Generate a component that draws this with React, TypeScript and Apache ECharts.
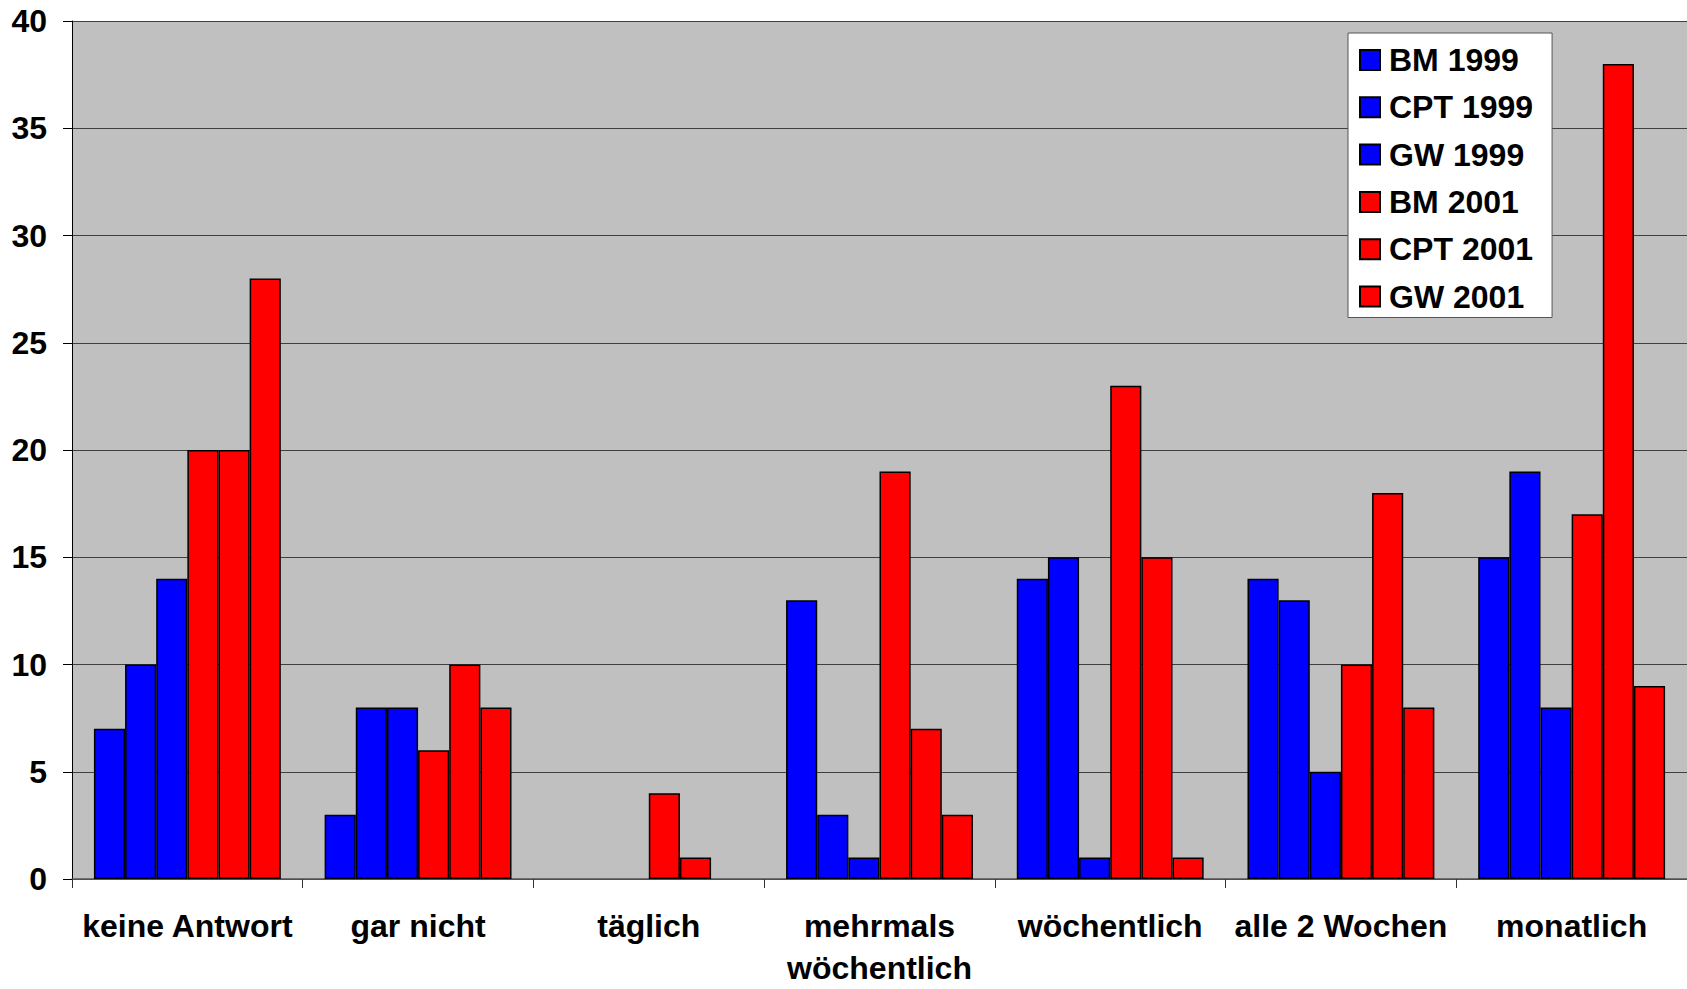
import React, { useEffect, useRef } from "react";
import * as echarts from "echarts";

const categories = [
  "keine Antwort",
  "gar nicht",
  "täglich",
  "mehrmals\nwöchentlich",
  "wöchentlich",
  "alle 2 Wochen",
  "monatlich",
];

const seriesNames = ["BM 1999", "CPT 1999", "GW 1999", "BM 2001", "CPT 2001", "GW 2001"];

const bm1999 = [7, 3, 0, 13, 14, 14, 15];
const cpt1999 = [10, 8, 0, 3, 15, 13, 19];
const gw1999 = [14, 8, 0, 1, 1, 5, 8];
const bm2001 = [20, 6, 4, 19, 23, 10, 17];
const cpt2001 = [20, 10, 1, 7, 15, 18, 38];
const gw2001 = [28, 8, 0, 3, 1, 8, 9];

const seriesValues = [bm1999, cpt1999, gw1999, bm2001, cpt2001, gw2001];
const seriesColors = ["#0000FF", "#0000FF", "#0000FF", "#FF0000", "#FF0000", "#FF0000"];

const yTicks = { min: 0, max: 40, interval: 5 };

const FONT = "'Liberation Sans', Arial, sans-serif";

export default function App() {
  const ref = useRef<HTMLDivElement>(null);

  useEffect(() => {
    if (!ref.current) return;
    const chart = echarts.init(ref.current, null, { renderer: "svg" });
    chart.setOption({
      animation: false,
      backgroundColor: "#FFFFFF",
      textStyle: { fontFamily: FONT },
      grid: {
        left: 72,
        top: 21,
        right: 0,
        bottom: 103,
        show: true,
        backgroundColor: "#C0C0C0",
        borderWidth: 0,
      },
      legend: {
        orient: "vertical",
        left: 1348,
        top: 33,
        backgroundColor: "#FFFFFF",
        borderColor: "#555555",
        borderWidth: 1,
        padding: [11, 19, 5, 11],
        itemWidth: 20,
        itemHeight: 20,
        itemGap: 15.3,
        icon: "rect",
        textStyle: {
          fontFamily: FONT,
          fontWeight: "bold",
          fontSize: 32,
          color: "#000000",
          padding: [0, 0, 0, 4],
        },
        data: seriesNames,
      },
      xAxis: {
        type: "category",
        data: categories,
        axisLine: { show: true, lineStyle: { color: "#555555", width: 1.5 } },
        axisTick: { show: true, length: 9, lineStyle: { color: "#333333", width: 1 } },
        axisLabel: {
          interval: 0,
          margin: 26,
          fontFamily: FONT,
          fontWeight: "bold",
          fontSize: 32,
          lineHeight: 42,
          color: "#000000",
        },
      },
      yAxis: {
        type: "value",
        min: yTicks.min,
        max: yTicks.max,
        interval: yTicks.interval,
        axisLine: { show: true, lineStyle: { color: "#000000", width: 1 } },
        axisTick: { show: true, length: 9, lineStyle: { color: "#000000", width: 1 } },
        splitLine: { show: true, lineStyle: { color: "#404040", width: 1.2 } },
        axisLabel: {
          margin: 25,
          fontFamily: FONT,
          fontWeight: "bold",
          fontSize: 32,
          color: "#000000",
        },
      },
      series: seriesNames.map((name, i) => ({
        name,
        type: "bar",
        data: seriesValues[i].map((v) =>
          v === 0 ? { value: v, itemStyle: { borderWidth: 0 } } : v
        ),
        barGap: "0%",
        barCategoryGap: "19%",
        itemStyle: {
          color: seriesColors[i],
          borderColor: "#000000",
          borderWidth: 1.5,
        },
      })),
    });
    return () => chart.dispose();
  }, []);

  return (
    <div
      ref={ref}
      style={{ position: "fixed", left: 0, top: 0, width: 1687, height: 989 }}
    />
  );
}
